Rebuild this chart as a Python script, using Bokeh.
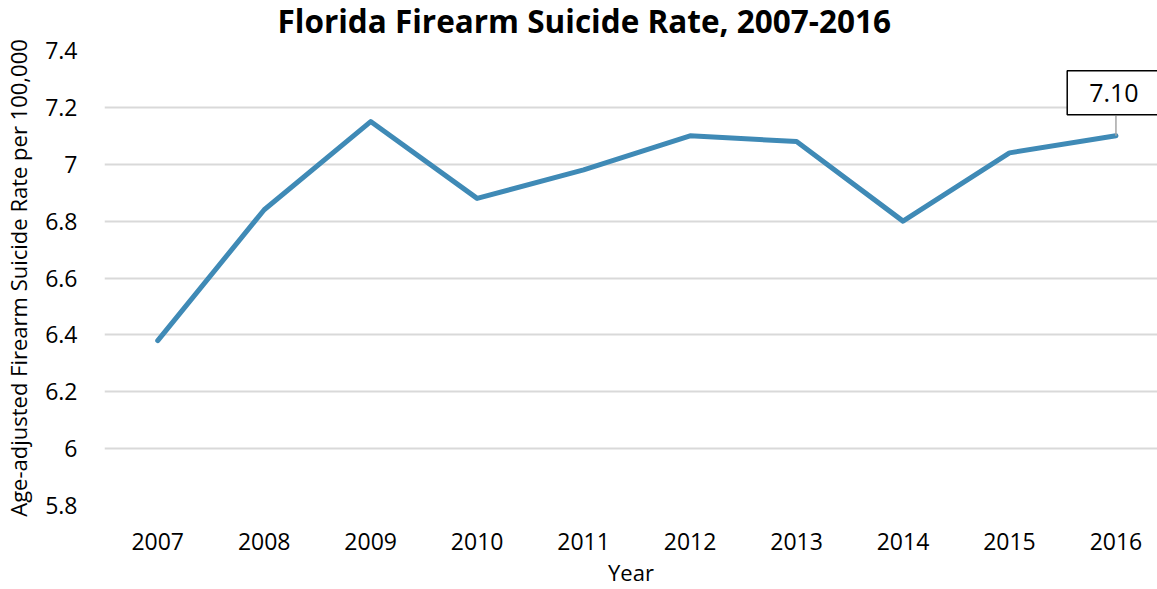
from bokeh.plotting import figure
from bokeh.models import Label, FixedTicker, Range1d
from bokeh.embed import file_html
from bokeh.resources import INLINE

years = [2007, 2008, 2009, 2010, 2011, 2012, 2013, 2014, 2015, 2016]
rates = [6.38, 6.84, 7.15, 6.88, 6.98, 7.10, 7.08, 6.80, 7.04, 7.10]
y_ticks = [5.8, 6.0, 6.2, 6.4, 6.6, 6.8, 7.0, 7.2, 7.4]
y_tick_labels = {5.8: "5.8", 6.0: "6", 6.2: "6.2", 6.4: "6.4", 6.6: "6.6",
                 6.8: "6.8", 7.0: "7", 7.2: "7.2", 7.4: "7.4"}
title_text = "Florida Firearm Suicide Rate, 2007-2016"
x_label = "Year"
y_label = "Age-adjusted Firearm Suicide Rate per 100,000"
callout_text = "%.2f" % rates[-1]

FONT = "Open Sans"
SHIFT = 12                      # canvas pulled up so the title sits near the page top
W = 1157
ML, MT, MB = 102, 50 + SHIFT, 84
H = 589 + SHIFT
frame_h = H - MT - MB
frame_w = W - ML

x_lo = years[0] - 0.5
x_hi = x_lo + frame_w / 106.67
y_lo, y_hi = 5.8, 7.4

p = figure(width=W, height=H, output_backend="svg", toolbar_location=None,
           x_range=Range1d(x_lo, x_hi), y_range=Range1d(y_lo, y_hi),
           min_border_left=ML, min_border_top=MT, min_border_bottom=MB,
           min_border_right=0, outline_line_color=None,
           styles={"margin-top": "-%dpx" % SHIFT})

p.title.text = title_text
p.title.text_font = FONT
p.title.text_font_size = "31.5px"
p.title.text_font_style = "bold"
p.title.align = "left"
p.title.offset = 173
p.title.standoff = SHIFT + 5
p.title.text_color = "#000000"

p.xgrid.grid_line_color = None
p.ygrid.grid_line_color = "#d9d9d9"
p.ygrid.grid_line_width = 2
p.yaxis.ticker = FixedTicker(ticks=y_ticks)
p.yaxis.major_label_overrides = y_tick_labels
p.xaxis.ticker = FixedTicker(ticks=years)
for ax in (p.xaxis, p.yaxis):
    ax.axis_line_color = None
    ax.major_tick_line_color = None
    ax.minor_tick_line_color = None
    ax.major_label_text_font = FONT
    ax.major_label_text_font_size = "23px"
    ax.major_label_text_color = "#000000"
    ax.axis_label_text_font = FONT
    ax.axis_label_text_font_size = "22px"
    ax.axis_label_text_font_style = "normal"
    ax.axis_label_text_color = "#000000"
p.yaxis.major_label_standoff = 21
p.xaxis.major_label_standoff = 21
p.xaxis.axis_label = x_label
p.yaxis.axis_label = y_label
p.xaxis.axis_label_standoff = 4
p.yaxis.axis_label_standoff = 9

p.line(years, rates, line_color="#3f8ab6", line_width=5, line_cap="round",
       line_join="round")

# callout
px_per_unit = frame_h / (y_hi - y_lo)
off = 43
p.segment(x0=[years[-1]], y0=[rates[-1]], x1=[years[-1]],
          y1=[rates[-1] + (off - 23) / px_per_unit], line_color="#a6a6a6", line_width=1.5)
p.add_layout(Label(x=years[-1], y=rates[-1], x_offset=-2, y_offset=off,
                   text=callout_text, text_font=FONT, text_font_size="25px",
                   text_align="center", text_baseline="middle", text_color="#000000",
                   background_fill_color="white", border_line_color="black",
                   border_line_width=1.5, padding=(22, 13)))

open("out.html", "w").write(file_html(p, INLINE))
